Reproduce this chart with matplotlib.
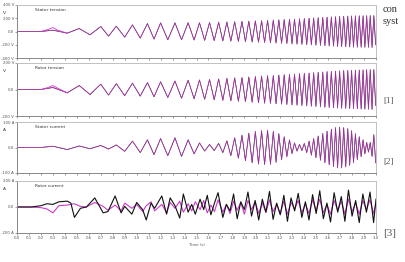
import numpy as np
import matplotlib
matplotlib.use("Agg")
import matplotlib.pyplot as plt

## times of the extrema of the voltage / stator current traces (s)
t_wave = [0.0, 0.2, 0.3, 0.42, 0.52, 0.61, 0.70, 0.765, 0.83, 0.90,
          0.965, 1.03, 1.09, 1.145, 1.20, 1.26, 1.32, 1.375, 1.43, 1.48,
          1.525, 1.568, 1.609, 1.648, 1.685, 1.720, 1.754, 1.787, 1.819,
          1.850, 1.880, 1.909, 1.937, 1.965, 1.992, 2.018, 2.044, 2.069, 2.094,
          2.118, 2.142, 2.165, 2.188, 2.211, 2.233, 2.255, 2.277, 2.298, 2.319, 2.340, 2.361, 2.381,
          2.401, 2.421, 2.441, 2.460, 2.479, 2.498, 2.517, 2.536, 2.555, 2.573, 2.591, 2.609,
          2.627, 2.645, 2.662, 2.679, 2.696,
          2.713, 2.730, 2.747, 2.764, 2.780, 2.796, 2.812, 2.828, 2.844, 2.860,
          2.876, 2.892, 2.907, 2.922, 2.937, 2.952, 2.967, 2.982, 2.997]

## stator tension (V)
v_stator = [0, 0, 20, -25, 45, -50, 75, -70, 80, -85,
            100, -100, 120, -115, 130, -125, 130, -125, 132, -128,
            132, -134, 136, -138, 140, -142, 144, -146, 148,
            -150, 152, -154, 156, -158, 160, -162, 164, -166, 168,
            -170, 172, -174, 176, -178, 180, -182, 184, -186, 188, -190, 192, -194,
            196, -198, 200, -202, 204, -206, 208, -210, 212, -214, 216, -218,
            220, -222, 224, -226, 228,
            -229, 230, -231, 232, -233, 234, -235, 236, -236, 237,
            -237, 238, -238, 239, -239, 240, -240, 240, -200]

## rotor tension (V)
v_rotor = [0, 0, 15, -25, 30, -38, 40, -42, 44, -46,
           48, -50, 52, -55, 58, -60, 64, -66, 70, -70,
           72, -74, 76, -78, 80, -82, 84, -86, 88,
           -89, 90, -92, 94, -96, 98, -100, 102, -103, 104,
           -105, 106, -108, 109, -110, 112, -113, 114, -116, 117, -118, 120, -121,
           122, -123, 124, -126, 127, -128, 130, -131, 132, -134, 135, -136,
           137, -138, 139, -140, 141,
           -142, 143, -143, 144, -144, 145, -145, 146, -146, 147,
           -147, 148, -148, 149, -149, 150, -150, 150, -120]

## stator current (A)
i_stator = [0, 0, 5, -8, 6, -5, 8, -6, 10, -15,
            25, -20, 30, -28, 35, -32, 38, -35, 30, -25,
            18, -14, 12, -12, 16, -20, 26, -32, 38,
            -42, 48, -52, 56, -60, 63, -65, 66, -67, 68,
            -66, 63, -58, 54, -48, 42, -36, 30, -24, 18, -14, 12, -12,
            16, -20, 25, -30, 35, -40, 45, -50, 55, -60, 64, -68,
            72, -75, 78, -80, 80,
            -80, 78, -76, 74, -70, 66, -60, 54, -48, 42,
            -36, 30, -25, 20, -18, 20, -35, 50, -60]

## small bump of the magenta trace at the start
t_bump = [0.2, 0.26, 0.3, 0.34, 0.42]
v_stator_bump = [0, 30, 60, 20, -25]
v_rotor_bump = [0, 15, 30, 10, -25]

## rotor current (A), black and magenta traces
t_rotor = [0.0, 0.12, 0.2, 0.25, 0.3, 0.35, 0.42, 0.45, 0.48, 0.53,
           0.58, 0.65, 0.72, 0.76, 0.82, 0.87, 0.9, 0.96, 1.0, 1.05,
           1.08, 1.12, 1.15, 1.21, 1.25, 1.28, 1.32, 1.36, 1.39, 1.43,
           1.46, 1.49, 1.53, 1.56, 1.59, 1.62, 1.65, 1.68, 1.72, 1.75,
           1.78, 1.81, 1.84, 1.87, 1.90, 1.93, 1.96, 1.99, 2.02, 2.05,
           2.08, 2.11, 2.14, 2.17, 2.20, 2.23, 2.26, 2.29, 2.32, 2.35,
           2.38, 2.41, 2.44, 2.47, 2.50, 2.53, 2.56, 2.59, 2.62, 2.65,
           2.68, 2.71, 2.74, 2.77, 2.80, 2.83, 2.86, 2.89, 2.92, 2.95,
           2.98, 3.0]
i_rotor_k = [0, 0, 10, 25, 20, 40, 45, 30, -80, -10,
             0, 70, -45, -35, 85, -45, 5, -55, 35, -20,
             -100, 30, -10, 85, -55, 70, 10, -85, 100, -40,
             20, -55, 60, -20, 90, -60, 30, 110, -80, 20,
             -30, 100, -90, 40, -20, 115, -70, 50, -100, 60,
             -40, 120, -95, 30, -60, 90, -110, 70, -30, 105,
             -80, 40, -100, 95, -50, 125, -90, 30, -115, 110,
             -40, 80, -110, 130, -70, 50, -120, 100, -40, 115,
             -120, 60]
i_rotor_m = [0, 0, -5, -15, -45, 10, 15, 20, 25, 5,
             0, 35, 5, -25, 15, -30, 30, -10, 20, -35,
             10, 40, -30, 20, -45, 35, -10, 45, -40, 25,
             -30, 40, -20, 50, -45, 15, -35, 55, -40, 20,
             -50, 45, -25, 35, -55, 50, -20, 40, -50, 30,
             -40, 55, -35, 20, -50, 45, -55, 35, -15, 50,
             -45, 25, -50, 55, -30, 60, -45, 20, -55, 50,
             -25, 45, -55, 60, -35, 30, -55, 50, -20, 55,
             -50, 30]

titles = ["Stator tension", "Rotor tension", "Stator current", "Rotor current"]
units = ["V", "V", "A", "A"]
yticks = [[400, 200, 0, -200, -400], [200, 0, -200], [100, 0, -100], [200, 0, -200]]
ylabels = [["400 V", "200 V", "0.0", "-200 V", "-400 V"],
           ["200 V", "0.0", "-200 V"],
           ["100 A", "0.0", "-100 A"],
           ["200 A", "0.0", "-200 A"]]
xticks = np.round(np.arange(0, 3.01, 0.1), 1)
refs = ["[1]", "[2]", "[3]"]

W, H = 405.0, 262.0
## (top, bottom) of each panel in pixels
boxes = [(5, 58), (63, 116), (122, 173), (181, 233)]
magenta = "#cc3acc"
grey = "#555555"

fig = plt.figure(figsize=(W / 100, H / 100), dpi=100)
axes = []
for k, (top, bot) in enumerate(boxes):
    ax = fig.add_axes([17 / W, 1 - bot / H, 359 / W, (bot - top) / H])
    lim = yticks[k][0]
    ax.set_ylim(-lim, lim)
    ax.set_xlim(0, 3.0)
    ax.set_yticks(yticks[k])
    ax.set_yticklabels(ylabels[k])
    ax.set_xticks(xticks)
    if k == 3:
        ax.set_xticklabels(["%.1f" % x for x in xticks])
    else:
        ax.set_xticklabels([])
        ax.tick_params(axis="x", length=0)
    ax.tick_params(labelsize=2.8, colors=grey, length=1.2, width=0.4, pad=1)
    for s in ax.spines.values():
        s.set_color("#c0c0c0")
        s.set_linewidth(0.7)
    ax.spines["left"].set_color("#888888")
    ax.spines["bottom"].set_color("#888888")
    ax.text(0.05, 0.88, titles[k], transform=ax.transAxes, fontsize=3.2, color="#333333")
    fig.text(3 / W, 1 - (top + 9) / H, units[k], fontsize=3.2, color="#333333")
    axes.append(ax)

## voltages and stator current: black with magenta on top
for ax, vals in zip(axes[:3], [v_stator, v_rotor, i_stator]):
    ax.plot(t_wave, vals, color="k", lw=0.45)
    ax.plot(t_wave, vals, color=magenta, lw=0.6, alpha=0.75)
axes[0].plot(t_bump, v_stator_bump, color=magenta, lw=0.6)
axes[1].plot(t_bump, v_rotor_bump, color=magenta, lw=0.6)

## rotor current
axes[3].plot(t_rotor, i_rotor_m, color=magenta, lw=0.8)
axes[3].plot(t_rotor, i_rotor_k, color="#111111", lw=0.8)
axes[3].text(0.5, -0.2, "Time (s)", transform=axes[3].transAxes, fontsize=2.8,
             color=grey, ha="center", va="top")

## text of the page to the right of the figure
serif = "Liberation Serif"
fig.text(383 / W, 1 - 9 / H, "con", family=serif, fontsize=7.5, color="#333333", va="center")
fig.text(383 / W, 1 - 21 / H, "syst", family=serif, fontsize=7.5, color="#333333", va="center")
for ref, y in zip(refs, [101, 162, 233]):
    fig.text(383 / W, 1 - y / H, ref, family=serif, fontsize=6.5 if ref != "[3]" else 8,
             color="#555555", va="center")

fig.savefig("out.png", dpi=100)
